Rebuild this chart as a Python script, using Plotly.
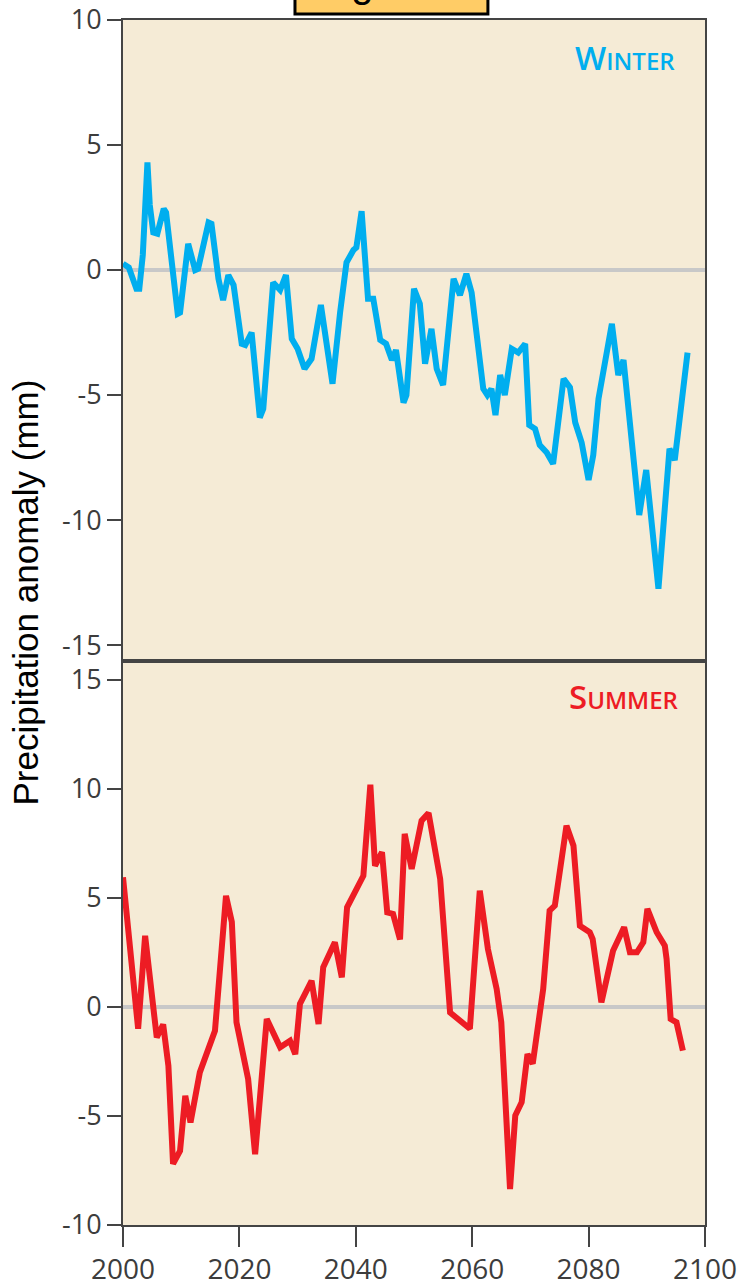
import plotly.graph_objects as go
from plotly.subplots import make_subplots

# Winter precipitation anomaly (mm)
winter_years = [2000.0, 2001.0, 2002.3, 2002.8, 2003.4, 2004.2, 2004.6, 2005.2, 2005.9, 2007.0,
                2007.4, 2009.4, 2009.8, 2011.2, 2012.4, 2012.9, 2014.7, 2015.2, 2016.4, 2017.2,
                2018.1, 2019.0, 2020.4, 2021.0, 2022.1, 2023.5, 2024.1, 2025.8, 2027.0, 2028.0,
                2029.0, 2030.0, 2031.2, 2032.4, 2034.0, 2036.0, 2037.3, 2038.4, 2039.6, 2040.1,
                2041.0, 2042.1, 2043.0, 2044.2, 2045.2, 2046.2, 2046.9, 2048.2, 2048.7, 2050.0,
                2051.0, 2051.9, 2053.0, 2053.9, 2055.0, 2056.8, 2057.9, 2059.0, 2059.9, 2061.9,
                2062.6, 2063.3, 2064.0, 2064.8, 2065.6, 2066.8, 2067.9, 2069.1, 2069.8, 2070.8,
                2071.6, 2072.8, 2073.9, 2075.7, 2076.8, 2077.7, 2078.8, 2080.0, 2080.8, 2081.7,
                2084.0, 2085.1, 2086.0, 2087.1, 2088.7, 2089.9, 2092.0, 2093.9, 2094.8, 2097.0]
winter_vals = [0.25, 0.1, -0.75, -0.75, 0.6, 4.3, 2.6, 1.5, 1.45, 2.45,
               2.3, -1.75, -1.7, 1.05, 0.0, 0.05, 1.9, 1.85, -0.35, -1.2,
               -0.2, -0.6, -2.95, -3.0, -2.5, -5.9, -5.55, -0.5, -0.8, -0.2,
               -2.75, -3.15, -3.95, -3.55, -1.4, -4.55, -1.7, 0.3, 0.8, 0.9,
               2.35, -1.15, -1.15, -2.8, -2.95, -3.6, -3.2, -5.3, -5.0, -0.75,
               -1.35, -3.75, -2.35, -3.95, -4.6, -0.35, -1.0, -0.15, -0.9, -4.75,
               -5.0, -4.75, -5.8, -4.2, -5.0, -3.15, -3.3, -2.95, -6.2, -6.35,
               -7.0, -7.3, -7.75, -4.35, -4.7, -6.1, -6.9, -8.4, -7.4, -5.15,
               -2.15, -4.2, -3.6, -6.1, -9.8, -8.0, -12.75, -7.15, -7.6, -3.3]

# Summer precipitation anomaly (mm)
summer_years = [2000.0, 2002.6, 2003.8, 2005.8, 2006.9, 2007.8, 2008.6, 2009.8, 2010.7, 2011.6,
                2013.2, 2014.4, 2015.8, 2017.7, 2018.7, 2019.5, 2021.5, 2022.7, 2024.7, 2027.0,
                2028.7, 2029.6, 2030.4, 2032.4, 2033.6, 2034.4, 2036.4, 2037.6, 2038.5, 2041.3,
                2042.5, 2043.3, 2044.5, 2045.4, 2046.4, 2047.6, 2048.4, 2049.6, 2051.3, 2052.5,
                2054.5, 2056.2, 2057.6, 2059.6, 2061.3, 2062.7, 2064.2, 2065.0, 2066.5, 2067.4,
                2068.5, 2069.5, 2070.4, 2072.2, 2073.3, 2074.2, 2076.2, 2077.4, 2078.5, 2080.2,
                2080.7, 2082.2, 2084.2, 2086.1, 2087.1, 2088.3, 2089.4, 2090.1, 2091.7, 2093.1,
                2093.4, 2094.1, 2095.1, 2096.2]
summer_vals = [5.95, -1.0, 3.27, -1.4, -0.8, -2.7, -7.2, -6.6, -4.07, -5.3,
               -3.0, -2.08, -1.09, 5.1, 3.9, -0.7, -3.3, -6.75, -0.55, -1.85,
               -1.55, -2.16, 0.14, 1.2, -0.78, 1.82, 2.97, 1.36, 4.57, 6.02,
               10.2, 6.48, 7.1, 4.34, 4.27, 3.1, 7.94, 6.33, 8.55, 8.9,
               5.87, -0.25, -0.55, -1.0, 5.34, 2.66, 0.83, -0.7, -8.35, -4.98,
               -4.37, -2.16, -2.6, 0.83, 4.42, 4.65, 8.32, 7.4, 3.73, 3.43,
               3.12, 0.21, 2.58, 3.66, 2.51, 2.51, 2.97, 4.5, 3.43, 2.81,
               2.2, -0.55, -0.7, -2.0]

x_ticks = [2000, 2020, 2040, 2060, 2080, 2100]
winter_ticks = [10, 5, 0, -5, -10, -15]
winter_tick_text = ["10", "5", "0", "-5", "-10", "-15"]
summer_ticks = [15, 10, 5, 0, -5, -10]
summer_tick_text = ["15", "10", "5", "0", "-5", "-10"]

BLUE = "#00AEEF"
RED = "#ED1C24"
PANEL_BG = "#F5EBD6"
AXIS = "#444444"
TICK_FONT = dict(family="Open Sans", size=27, color="#3c3c3c")

fig = make_subplots(rows=2, cols=1, shared_xaxes=True, vertical_spacing=0,
                    row_heights=[0.532, 0.468])

fig.add_trace(go.Scatter(x=winter_years, y=winter_vals, mode="lines",
                         line=dict(color=BLUE, width=6), showlegend=False), row=1, col=1)
fig.add_trace(go.Scatter(x=summer_years, y=summer_vals, mode="lines",
                         line=dict(color=RED, width=6), showlegend=False), row=2, col=1)

common_x = dict(range=[2000, 2100], showgrid=False, zeroline=False, showline=True,
                linecolor=AXIS, linewidth=2, mirror=True, automargin=False)
fig.update_xaxes(**common_x, showticklabels=False, ticks="", row=1, col=1)
fig.update_xaxes(**common_x, tickvals=x_ticks, ticks="outside", ticklen=20, tickwidth=2,
                 tickcolor=AXIS, ticklabelstandoff=-2,
                 tickfont=dict(family="Open Sans", size=28, color="#3c3c3c"),
                 row=2, col=1)

common_y = dict(showgrid=False, zeroline=True, zerolinecolor="#C8C8C8", zerolinewidth=4,
                showline=True, linecolor=AXIS, linewidth=2, mirror=True, automargin=False,
                ticks="outside", ticklen=14, tickwidth=2, tickcolor=AXIS, tickfont=TICK_FONT)
fig.update_yaxes(**common_y, range=[-15.64, 10], tickvals=winter_ticks,
                 ticktext=winter_tick_text, row=1, col=1)
fig.update_yaxes(**common_y, range=[-10, 15.87], tickvals=summer_ticks,
                 ticktext=summer_tick_text, row=2, col=1)

# Season labels in small caps
fig.add_annotation(xref="x domain", yref="y domain", x=0.952, y=0.942, xanchor="right",
                   yanchor="middle", showarrow=False,
                   text="W<span style='font-size:24px'>INTER</span>",
                   font=dict(family="Open Sans", size=33, color=BLUE, weight=600))
fig.add_annotation(xref="x2 domain", yref="y2 domain", x=0.958, y=0.938, xanchor="right",
                   yanchor="middle", showarrow=False,
                   text="S<span style='font-size:24px'>UMMER</span>",
                   font=dict(family="Open Sans", size=33, color=RED, weight=600))

# Shared y-axis title
fig.add_annotation(xref="paper", yref="paper", x=-0.205, y=0.525, textangle=-90,
                   showarrow=False, text="Precipitation anomaly (mm)",
                   font=dict(family="Liberation Sans", size=35, color="#000000"))

# Figure caption box at the top edge
fig.add_shape(type="rect", xref="paper", yref="paper", x0=0.2955, x1=0.627,
              y0=1 + 6 / 1205, y1=1 + 60 / 1205, fillcolor="#FFCC66",
              line=dict(color="#000000", width=3), layer="above")
fig.add_annotation(xref="paper", yref="paper", x=0.461, y=1 + 13 / 1205,
                   xanchor="center", yanchor="bottom", showarrow=False,
                   text="Figure 1", font=dict(family="Liberation Sans", size=40, color="#000000"))

fig.update_layout(width=742, height=1287, margin=dict(l=123, r=37, t=20, b=62, autoexpand=False),
                  paper_bgcolor="white", plot_bgcolor=PANEL_BG)

fig.write_html("out.html")
